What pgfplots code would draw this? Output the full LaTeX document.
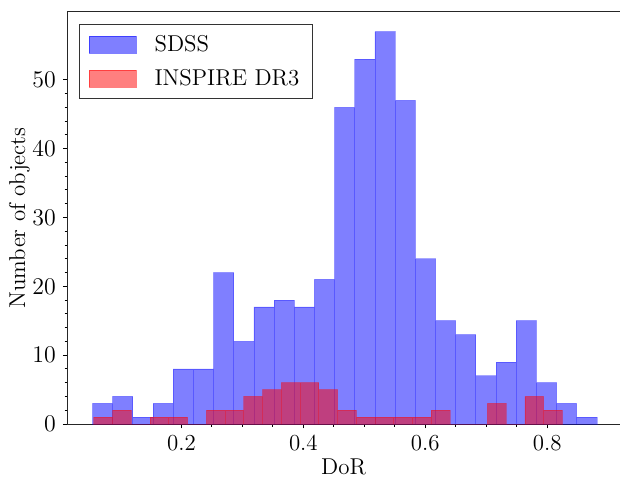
\documentclass[border=0pt]{standalone}
\usepackage{pgfplots}
\pgfplotsset{compat=1.18}
\pgfplotstableread{
x y
0.0541 3
0.0872 4
0.1203 1
0.1534 3
0.1865 8
0.2196 8
0.2527 22
0.2858 12
0.3189 17
0.3520 18
0.3851 17
0.4182 21
0.4513 46
0.4844 53
0.5175 57
0.5506 47
0.5837 24
0.6168 15
0.6499 13
0.6830 7
0.7161 9
0.7492 15
0.7823 6
0.8154 3
0.8485 1
0.8816 1
}\sdss
\pgfplotstableread{
x y
0.0563 1
0.08705 2
0.1178 0
0.14855 1
0.1793 1
0.21005 0
0.2408 2
0.27155 2
0.3023 4
0.33305 5
0.3638 6
0.39455 6
0.4253 5
0.45605 2
0.4868 1
0.51755 1
0.5483 1
0.57905 1
0.6098 2
0.64055 0
0.6713 0
0.70205 3
0.7328 0
0.76355 4
0.7943 2
0.82505 2
}\inspire
\begin{document}
\begin{tikzpicture}
\begin{axis}[
  scale only axis,
  width=276.35bp, height=206bp,
  xmin=0.0127, xmax=0.9195,
  ymin=0, ymax=59.85,
  axis lines*=left,
  axis line style={line width=0.5bp, black!85},
  tick align=outside,
  major tick length=2.2bp,
  minor tick length=1.3bp,
  every tick/.style={black, line width=0.45bp},
  xtick={0.2,0.4,0.6,0.8},
  xticklabels={0.2,0.4,0.6,0.8},
  minor x tick num=3,
  ytick={0,10,20,30,40,50},
  minor y tick num=4,
  tick label style={font=\fontsize{11.5}{13}\selectfont},
  label style={font=\fontsize{11.5}{13}\selectfont},
  xlabel={DoR},
  ylabel={Number of objects},
  xlabel style={yshift=3bp},
  ylabel style={yshift=-5.5bp},
  legend style={at={(axis description cs:0,1)}, anchor=north west,
    xshift=6bp, yshift=-6bp, draw=black!80, line width=0.5bp,
    font=\fontsize{11.5}{13}\selectfont, inner xsep=4.5bp, inner ysep=3.2bp,
    row sep=3.5bp},
  legend cell align=left,
  clip=false,
]
\addplot [ybar interval, fill=blue, fill opacity=0.5, draw=blue, draw opacity=0.3, line width=0.4bp,
  area legend,
  legend image code/.code={\fill[blue, opacity=0.5] (0bp,-4.25bp) rectangle (23.5bp,4.25bp);}]
  table [x=x, y=y] {\sdss};
\addlegendentry{\hspace{7bp}SDSS}
\addplot [ybar interval, fill=red, fill opacity=0.5, draw=red, draw opacity=0.3, line width=0.4bp,
  area legend,
  legend image code/.code={\fill[red, opacity=0.5] (0bp,-4.25bp) rectangle (23.5bp,4.25bp);}]
  table [x=x, y=y] {\inspire};
\addlegendentry{\hspace{7bp}INSPIRE DR3}
\draw[line width=0.5bp, black!85] (rel axis cs:0,1) -- (rel axis cs:1,1);
\coordinate (ll) at (rel axis cs:0,0);
\coordinate (ur) at (rel axis cs:1,1);
\end{axis}
\pgfresetboundingbox
\path ([xshift=-33.65bp,yshift=-28.5bp]ll) rectangle ([yshift=6bp]ur);
\end{tikzpicture}
\end{document}
